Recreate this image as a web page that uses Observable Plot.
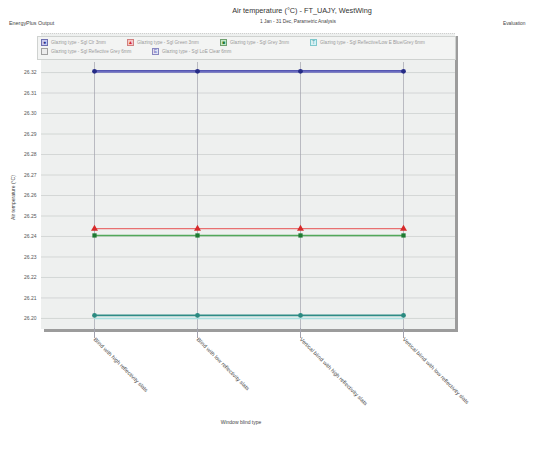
<!DOCTYPE html>
<html>
<head>
<meta charset="utf-8">
<script src="https://cdn.jsdelivr.net/npm/d3@7"></script>
<script src="https://cdn.jsdelivr.net/npm/@observablehq/plot@0.6"></script>
<style>
  html, body { margin: 0; padding: 0; background: #fff; }
  #wrap { position: relative; width: 535px; height: 457px; font-family: "Liberation Sans", Arial, sans-serif; overflow: hidden; }
  .t { position: absolute; white-space: nowrap; color: #444; }
  #panel { position: absolute; left: 41px; top: 33px; width: 414px; height: 295px; background: #eef0ef; box-shadow: 3px 3px 0 #9c9c9c; border-top: 1px dotted #cfcfcf; }
  #legend { position: absolute; left: 37px; top: 36px; width: 417px; height: 22px; border: 1px solid #cfd2d0; background: #f3f4f3; }
  .li { position: absolute; font-size: 4.6px; color: #9a9a9a; white-space: nowrap; line-height: 8px; }
  .mk { position: absolute; width: 7px; height: 7px; border: 1px solid; box-sizing: border-box; }
  #chart { position: absolute; left: 0; top: 0; }
</style>
</head>
<body>
<div id="wrap">
  <div class="t" style="left:0;width:604px;text-align:center;top:6px;font-size:7.3px;color:#333;">Air temperature (°C) - FT_UAJY, WestWing</div>
  <div class="t" style="left:0;width:596px;text-align:center;top:19px;font-size:4.8px;">1 Jan - 31 Dec, Parametric Analysis</div>
  <div class="t" style="left:9px;top:20px;font-size:5.4px;">EnergyPlus Output</div>
  <div class="t" style="left:503px;top:21px;font-size:4.8px;">Evaluation</div>
  <div id="panel"></div>
  <div id="legend"></div>
  <div id="chart"></div>
  <div class="t" style="left:0;width:482px;text-align:center;top:419px;font-size:5px;">Window blind type</div>
</div>
<script>
const categories = [
  "Blind with high reflectivity slats",
  "Blind with low reflectivity slats",
  "Vertical blind with high reflectivity slats",
  "Vertical blind with low reflectivity slats"
];
const seriesNames = [
  "Glazing type - Sgl Clr 3mm",
  "Glazing type - Sgl Green 3mm",
  "Glazing type - Sgl Grey 3mm",
  "Glazing type - Sgl Reflective/Low E Blue/Grey 6mm",
  "Glazing type - Sgl Reflective Grey 6mm",
  "Glazing type - Sgl LoE Clear 6mm"
];
const sglClr3 = [26.3206, 26.3206, 26.3206, 26.3206];
const sglGreen3 = [26.2438, 26.2438, 26.2438, 26.2438];
const sglGrey3 = [26.2405, 26.2405, 26.2405, 26.2405];
const sglReflLowE6 = [26.2015, 26.2015, 26.2015, 26.2015];
const sglReflGrey6 = [26.2000, 26.2000, 26.2000, 26.2000];
const sglLoEClear6 = [26.3204, 26.3204, 26.3204, 26.3204];
const yTicks = [26.20, 26.21, 26.22, 26.23, 26.24, 26.25, 26.26, 26.27, 26.28, 26.29, 26.30, 26.31, 26.32];

const seriesValues = [sglClr3, sglGreen3, sglGrey3, sglReflLowE6, sglReflGrey6, sglLoEClear6];
const lineColors = ["#5456b2", "#e87070", "#52a85a", "#2f8c86", "#a9dfe0", "#6a6cc0"];
const lineWidths = [2.4, 1.2, 1.4, 1.8, 1.4, 1.6];
const markerColors = ["#262c86", "#d62a2a", "#1e7a32", "#2a8a80", null, null];
const markerSymbols = ["circle", "triangle", "square", "circle", null, null];

const rows = [];
seriesNames.forEach((s, i) => categories.forEach((c, j) => rows.push({series: s, idx: i, category: c, value: seriesValues[i][j]})));

// legend
const legendPos = [[3, 2], [89, 2], [182, 2], [272, 2], [3, 11], [114, 11]];
const legendBg = ["#c8caf0", "#f6c8c8", "#c4e8c8", "#d8f2f4", "#ececec", "#e4e4f4"];
const legendBorder = ["#7070b0", "#d08080", "#70a070", "#80c8cc", "#a0a0a0", "#8888c0"];
const legendGlyph = ["●", "▲", "■", "T", "", "E"];
const legendGlyphColor = ["#262c86", "#d62a2a", "#1e7a32", "#4aa8b0", "#888", "#6a6cc0"];
const lg = document.getElementById("legend");
seriesNames.forEach((s, i) => {
  const [lx, ly] = legendPos[i];
  const m = document.createElement("div");
  m.className = "mk";
  m.style.left = lx + "px"; m.style.top = ly + "px";
  m.style.background = legendBg[i]; m.style.borderColor = legendBorder[i];
  m.style.fontSize = "5px"; m.style.lineHeight = "5px"; m.style.textAlign = "center";
  m.style.color = legendGlyphColor[i];
  m.textContent = legendGlyph[i];
  lg.appendChild(m);
  const t = document.createElement("div");
  t.className = "li";
  t.style.left = (lx + 10) + "px"; t.style.top = (ly - 0.5) + "px";
  t.textContent = s;
  lg.appendChild(t);
});

const marks = [
  Plot.gridY(yTicks, {stroke: "#cdd1cf", strokeOpacity: 1, strokeWidth: 0.8}),
  Plot.gridX(categories, {stroke: "#a2a2ae", strokeOpacity: 1, strokeWidth: 0.7})
];
seriesNames.forEach((s, i) => {
  const d = rows.filter(r => r.idx === i);
  marks.push(Plot.lineY(d, {x: "category", y: "value", stroke: lineColors[i], strokeWidth: lineWidths[i]}));
});
[0, 1, 2, 3].forEach(i => {
  const d = rows.filter(r => r.idx === i);
  marks.push(Plot.dot(d, {x: "category", y: "value", symbol: markerSymbols[i], fill: markerColors[i], stroke: "none", r: i === 1 ? 2.6 : 2.4}));
});
marks.push(
  Plot.axisY(yTicks, {tickSize: 0, tickPadding: 5, tickFormat: d3.format(".2f"), fontSize: 5, fill: "#555", label: null}),
  Plot.axisX({tickSize: 10, tickPadding: 0, tickRotate: 45, fontSize: 5.5, fill: "#444", stroke: "#a2a2ae", label: null}),
  Plot.text(["Air temperature (°C)"], {frameAnchor: "left", textAnchor: "middle", dx: -28, dy: 2, rotate: -90, fontSize: 5, fill: "#444"})
);

const chart = Plot.plot({
  width: 535,
  height: 457,
  marginLeft: 41,
  marginRight: 80,
  marginTop: 62,
  marginBottom: 129,
  style: {background: "transparent", fontFamily: "Liberation Sans, Arial, sans-serif"},
  x: {type: "point", domain: categories, padding: 0.5},
  y: {domain: [26.1951, 26.3249]},
  marks
});
document.getElementById("chart").appendChild(chart);
</script>
</body>
</html>
